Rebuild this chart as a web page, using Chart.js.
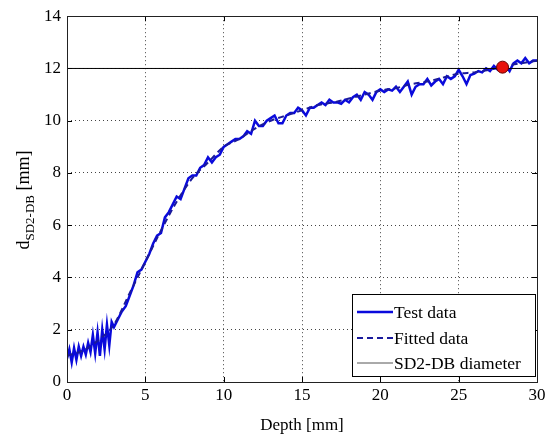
<!DOCTYPE html>
<html>
<head>
<meta charset="utf-8">
<script src="https://cdn.jsdelivr.net/npm/chart.js@4/dist/chart.umd.min.js"></script>
<style>
html,body{margin:0;padding:0;background:#fff;}
#wrap{width:556px;height:436px;}
</style>
</head>
<body>
<div id="wrap"><canvas id="c" width="556" height="436"></canvas></div>
<script>
// ---- Data ----
const testDepth = [0,0.15,0.3,0.45,0.6,0.75,0.9,1.05,1.2,1.35,1.5,1.65,1.8,1.95,2.1,2.25,2.4,2.55,2.7,2.85,3.0,
  3.25,3.5,3.75,4.0,4.25,4.5,4.75,5.0,5.25,5.5,5.75,6.0,6.25,6.5,6.75,7.0,7.25,7.5,7.75,8.0,8.25,8.5,8.75,9.0,9.25,9.5,9.75,
  10.0,10.25,10.5,10.75,11.0,11.25,11.5,11.75,12.0,12.25,12.5,12.75,13.0,13.25,13.5,13.75,14.0,14.25,14.5,14.75,
  15.0,15.25,15.5,15.75,16.0,16.25,16.5,16.75,17.0,17.25,17.5,17.75,18.0,18.25,18.5,18.75,19.0,19.25,19.5,19.75,
  20.0,20.25,20.5,20.75,21.0,21.25,21.5,21.75,22.0,22.25,22.5,22.75,23.0,23.25,23.5,23.75,24.0,24.25,24.5,24.75,
  25.0,25.25,25.5,25.75,26.0,26.25,26.5,26.75,27.0,27.25,27.5,27.75,28.0,28.25,28.5,28.75,29.0,29.25,29.5,29.75,30.0];
const testDiameter = [0.9,1.25,0.75,1.3,0.85,1.35,1.0,1.35,1.05,1.5,1.15,1.8,1.1,1.9,1.0,2.0,1.25,2.2,1.4,2.3,2.1,
  2.4,2.7,2.9,3.3,3.7,4.2,4.3,4.6,4.9,5.3,5.6,5.7,6.3,6.5,6.8,7.1,7.0,7.4,7.8,7.9,7.9,8.2,8.3,8.6,8.4,8.6,8.7,
  9.0,9.1,9.2,9.3,9.3,9.4,9.6,9.5,10.0,9.8,9.8,10.0,10.1,10.2,9.9,9.9,10.2,10.3,10.3,10.5,
  10.4,10.2,10.5,10.5,10.6,10.7,10.6,10.8,10.7,10.7,10.65,10.8,10.7,10.9,11.0,10.8,11.1,11.0,10.8,11.1,
  11.2,11.1,11.2,11.15,11.3,11.1,11.3,11.5,11.0,11.3,11.4,11.4,11.6,11.35,11.5,11.6,11.4,11.7,11.6,11.7,
  11.95,11.7,11.4,11.75,11.8,11.9,11.85,12.0,11.9,12.1,11.95,12.0,12.1,11.9,12.2,12.3,12.2,12.4,12.2,12.3,12.3];
const fitDepth = [0,1,2,3,4,5,6,7,8,9,10,11,12,13,14,15,16,17,18,19,20,21,22,23,24,25,26,27,28,29,30];
const fitDiameter = [1.0,1.2,1.6,2.2,3.4,4.6,5.8,6.9,7.8,8.4,9.0,9.3,9.7,10.0,10.2,10.4,10.6,10.7,10.85,11.0,11.15,11.25,11.4,11.5,11.65,11.8,11.85,11.95,12.1,12.2,12.3];
const sdDepth = [0,30];
const sdDiameter = [12,12];
const markDepth = [27.8];
const markDiameter = [12.05];
const xTicks = [0,5,10,15,20,25,30];
const yTicks = [0,2,4,6,8,10,12,14];
const legendLabels = ['Test data','Fitted data','SD2-DB diameter'];

const FONT = "'Liberation Serif','Times New Roman',serif";
const pts = (xs, ys) => xs.map((x,i)=>({x:x,y:ys[i]}));

const frame = {
  id:'frame',
  afterDraw(chart){
    const {ctx, chartArea:a, scales} = chart;
    ctx.save();
    ctx.strokeStyle='#000'; ctx.lineWidth=1;
    xTicks.forEach(v=>{
      const px = Math.round(scales.x.getPixelForValue(v))+0.5;
      ctx.beginPath(); ctx.moveTo(px,a.bottom); ctx.lineTo(px,a.bottom-5);
      ctx.moveTo(px,a.top); ctx.lineTo(px,a.top+5); ctx.stroke();
    });
    yTicks.forEach(v=>{
      const py = Math.round(scales.y.getPixelForValue(v))+0.5;
      ctx.beginPath(); ctx.moveTo(a.left,py); ctx.lineTo(a.left+5,py);
      ctx.moveTo(a.right,py); ctx.lineTo(a.right-5,py); ctx.stroke();
    });
    ctx.strokeStyle='#222';
    ctx.strokeRect(Math.round(a.left)+0.5, Math.round(a.top)+0.5, Math.round(a.right-a.left), Math.round(a.bottom-a.top));
    // legend
    const lx=352.5, ly=294.5, lw=183, lh=82;
    ctx.fillStyle='#fff'; ctx.fillRect(lx,ly,lw,lh);
    ctx.strokeStyle='#000'; ctx.lineWidth=1; ctx.strokeRect(lx,ly,lw,lh);
    const rows=[312,338,363];
    const ds = chart.data.datasets;
    ctx.font = '17.5px '+FONT; ctx.textBaseline='middle'; ctx.textAlign='left';
    for(let i=0;i<3;i++){
      const d = ds[i];
      ctx.beginPath();
      ctx.strokeStyle = i===2 ? '#555' : d.borderColor; ctx.lineWidth = d.borderWidth;
      ctx.setLineDash(d.borderDash||[]);
      ctx.moveTo(357,rows[i]); ctx.lineTo(393,rows[i]); ctx.stroke();
      ctx.setLineDash([]);
      ctx.fillStyle='#000';
      ctx.fillText(legendLabels[i], 394, rows[i]+1);
    }
    // y-axis title with subscript
    ctx.translate(24,200); ctx.rotate(-Math.PI/2);
    const p1='d', p2='SD2-DB', p3=' [mm]';
    ctx.font='18px '+FONT; const w1=ctx.measureText(p1).width;
    ctx.font='13px '+FONT; const w2=ctx.measureText(p2).width;
    ctx.font='18px '+FONT; const w3=ctx.measureText(p3).width;
    let sx = -(w1+w2+w3)/2;
    ctx.textBaseline='alphabetic'; ctx.fillStyle='#000';
    ctx.font='18px '+FONT; ctx.fillText(p1,sx,5); sx+=w1;
    ctx.font='13px '+FONT; ctx.fillText(p2,sx,10); sx+=w2;
    ctx.font='18px '+FONT; ctx.fillText(p3,sx,5);
    ctx.restore();
  }
};

new Chart(document.getElementById('c'),{
  type:'scatter',
  data:{datasets:[
    {label:legendLabels[0], data:pts(testDepth,testDiameter), showLine:true, borderColor:'#0a0adc', backgroundColor:'#0a0adc', borderWidth:2.5, pointRadius:0, tension:0, order:3},
    {label:legendLabels[1], data:pts(fitDepth,fitDiameter), showLine:true, borderColor:'#1a1a9c', backgroundColor:'#1a1a9c', borderWidth:2, borderDash:[6,4], pointRadius:0, cubicInterpolationMode:'monotone', order:2},
    {label:legendLabels[2], data:pts(sdDepth,sdDiameter), showLine:true, borderColor:'#000', backgroundColor:'#000', borderWidth:1, pointRadius:0, order:1},
    {label:'Point', data:pts(markDepth,markDiameter), showLine:false, pointRadius:6, pointBackgroundColor:'#e8120c', pointBorderColor:'#600', pointBorderWidth:1, order:0}
  ]},
  options:{
    responsive:false, animation:false,
    layout:{padding:{top:14,right:19,left:0,bottom:0}},
    plugins:{legend:{display:false}, tooltip:{enabled:false}},
    scales:{
      x:{type:'linear', min:0, max:30,
        afterBuildTicks(s){ s.ticks = xTicks.map(v=>({value:v})); },
        afterFit(s){ s.height = 54; },
        ticks:{font:{family:FONT,size:17}, color:'#000', padding:3, maxRotation:0},
        grid:{color:'#444', lineWidth:1, drawTicks:false},
        border:{display:false, dash:[1,3]},
        title:{display:true, text:'Depth [mm]', font:{family:FONT,size:17}, color:'#000', padding:{top:5,bottom:0}}
      },
      y:{type:'linear', min:0, max:14,
        afterBuildTicks(s){ s.ticks = yTicks.map(v=>({value:v})); },
        afterFit(s){ s.width = 67; },
        ticks:{font:{family:FONT,size:17}, color:'#000', padding:6},
        grid:{color:'#444', lineWidth:1, drawTicks:false},
        border:{display:false, dash:[1,3]}
      }
    }
  },
  plugins:[frame]
});
</script>
</body>
</html>
